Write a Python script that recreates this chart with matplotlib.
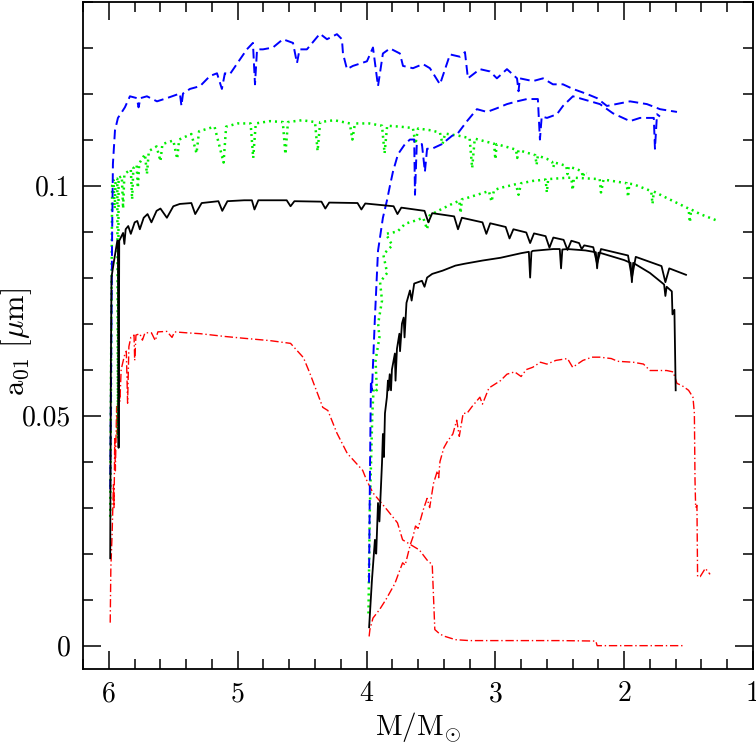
import matplotlib
matplotlib.use("Agg")
import matplotlib.pyplot as plt
from matplotlib.ticker import MultipleLocator

plt.rcParams['font.family'] = 'serif'
plt.rcParams['font.serif'] = ['cmr10', 'DejaVu Serif']
plt.rcParams['mathtext.fontset'] = 'cm'
plt.rcParams['axes.formatter.use_mathtext'] = True

# ---- data (mass M/Msun, a01 in micron) ----
# blue dashed
blue1_m = [5.99, 5.975, 5.969, 5.953, 5.930, 5.899, 5.876, 5.837, 5.783, 5.77, 5.755, 5.705, 5.627, 5.55,
           5.449, 5.437, 5.425, 5.371, 5.293, 5.216, 5.161, 5.123, 5.10, 5.061, 4.983, 4.929, 4.882, 4.866,
           4.85, 4.804, 4.727, 4.649, 4.571, 4.540, 4.52, 4.463, 4.362, 4.307, 4.230, 4.191, 4.183, 4.152,
           4.106, 3.997, 3.950, 3.911, 3.873, 3.818, 3.741, 3.717, 3.640, 3.562, 3.508, 3.430, 3.352, 3.275,
           3.236, 3.213, 3.120, 3.042, 2.988, 2.910, 2.832, 2.82, 2.81, 2.708, 2.630, 2.553, 2.475, 2.398,
           2.289, 2.211, 2.134, 1.955, 1.823, 1.722, 1.590]
blue1_a = [0.034, 0.090, 0.1047, 0.112, 0.1147, 0.116, 0.117, 0.1194, 0.119, 0.117, 0.119, 0.1194, 0.1183,
           0.119, 0.120, 0.1173, 0.120, 0.121, 0.1216, 0.1238, 0.1244, 0.121, 0.1244, 0.1242, 0.1274, 0.1296,
           0.131, 0.122, 0.1296, 0.1296, 0.130, 0.1318, 0.131, 0.1266, 0.1296, 0.1296, 0.133, 0.1318, 0.1329,
           0.1318, 0.1287, 0.1253, 0.126, 0.127, 0.130, 0.1216, 0.1287, 0.1298, 0.1287, 0.126, 0.1255,
           0.1264, 0.1255, 0.122, 0.1285, 0.128, 0.129, 0.1233, 0.1253, 0.1248, 0.1233, 0.1253, 0.1233,
           0.1205, 0.1233, 0.1227, 0.1233, 0.122, 0.122, 0.121, 0.1199, 0.119, 0.1173, 0.1183, 0.1177,
           0.1166, 0.116]
blue2_m = [3.981, 3.974, 3.966, 3.958, 3.935, 3.911, 3.873, 3.842, 3.818, 3.795, 3.756, 3.702, 3.663, 3.63,
           3.624, 3.61, 3.570, 3.547, 3.53, 3.492, 3.415, 3.337, 3.290, 3.22, 3.143, 3.065, 2.988, 2.910,
           2.832, 2.755, 2.67, 2.654, 2.64, 2.599, 2.522, 2.475, 2.398, 2.188, 2.087, 1.955, 1.877, 1.77,
           1.761, 1.745, 1.722]
blue2_a = [0.0137, 0.036, 0.0576, 0.0555, 0.0713, 0.0858, 0.093, 0.0967, 0.100, 0.103, 0.1068, 0.109,
           0.110, 0.110, 0.098, 0.109, 0.109, 0.103, 0.108, 0.108, 0.109, 0.1108, 0.1114, 0.114, 0.1166,
           0.116, 0.1168, 0.1177, 0.1183, 0.1188, 0.1188, 0.110, 0.115, 0.1147, 0.1155, 0.1173, 0.1194,
           0.1177, 0.1157, 0.114, 0.1147, 0.1147, 0.108, 0.1155, 0.115]

# green dotted
green1_m = [5.99, 5.975, 5.965, 5.955, 5.948, 5.935, 5.93, 5.925, 5.90, 5.89, 5.88, 5.83, 5.82, 5.81, 5.785,
            5.775, 5.765, 5.72, 5.705, 5.69, 5.63, 5.60, 5.585, 5.50, 5.47, 5.455, 5.36, 5.32, 5.30, 5.18,
            5.11, 5.09, 5.00, 4.90, 4.88, 4.86, 4.75, 4.65, 4.63, 4.61, 4.50, 4.40, 4.38, 4.36, 4.25, 4.13,
            4.11, 4.09, 3.98, 3.88, 3.86, 3.84, 3.74, 3.64, 3.62, 3.60, 3.50, 3.43, 3.41, 3.39, 3.28, 3.20,
            3.18, 3.16, 3.08, 3.01, 3.00, 2.99, 2.90, 2.84, 2.83, 2.82, 2.75, 2.69, 2.68, 2.67, 2.60, 2.56,
            2.55, 2.54, 2.49, 2.45, 2.44, 2.43, 2.37, 2.33, 2.32, 2.31, 2.29]
green1_a = [0.028, 0.100, 0.1012, 0.095, 0.1013, 0.1015, 0.045, 0.1017, 0.1020, 0.095, 0.1025, 0.1035,
            0.097, 0.1038, 0.1045, 0.0995, 0.1048, 0.1068, 0.1025, 0.1075, 0.1085, 0.1053, 0.109, 0.1098,
            0.1058, 0.110, 0.1112, 0.107, 0.1118, 0.1128, 0.105, 0.1128, 0.1135, 0.1135, 0.106, 0.1135,
            0.114, 0.1138, 0.1068, 0.1138, 0.1142, 0.1138, 0.1075, 0.1138, 0.1142, 0.1135, 0.110, 0.1135,
            0.1135, 0.113, 0.107, 0.113, 0.1128, 0.1125, 0.109, 0.1124, 0.112, 0.1115, 0.109, 0.1113,
            0.1108, 0.1103, 0.1038, 0.1102, 0.1096, 0.1091, 0.1057, 0.109, 0.1083, 0.1078, 0.1060, 0.1077,
            0.1071, 0.1066, 0.1045, 0.1065, 0.1058, 0.1052, 0.1040, 0.105, 0.1046, 0.1043, 0.1025, 0.1041,
            0.1036, 0.1031, 0.1018, 0.1029, 0.1027]
green2_m = [3.985, 3.975, 3.965, 3.955, 3.945, 3.92, 3.93, 3.90, 3.91, 3.88, 3.895, 3.84, 3.87, 3.80, 3.85,
            3.76, 3.70, 3.63, 3.56, 3.53, 3.51, 3.445, 3.337, 3.28, 3.27, 3.26, 3.22, 3.05, 3.03, 3.01, 2.96,
            2.84, 2.82, 2.80, 2.71, 2.61, 2.60, 2.59, 2.44, 2.41, 2.40, 2.39, 2.19, 2.18, 2.16, 1.98, 1.97,
            1.96, 1.93, 1.79, 1.78, 1.77, 1.67, 1.50, 1.49, 1.48, 1.41, 1.29]
green2_a = [0.007, 0.029, 0.040, 0.0505, 0.056, 0.0555, 0.062, 0.067, 0.070, 0.075, 0.079, 0.081, 0.085,
            0.087, 0.0895, 0.090, 0.0917, 0.0923, 0.093, 0.0905, 0.0935, 0.0945, 0.096, 0.0967, 0.094,
            0.097, 0.0973, 0.0988, 0.0965, 0.099, 0.0995, 0.1003, 0.098, 0.1005, 0.101, 0.1013, 0.0985,
            0.1014, 0.1017, 0.1017, 0.099, 0.1017, 0.1014, 0.0985, 0.1013, 0.1005, 0.0975, 0.1004, 0.1003,
            0.0988, 0.096, 0.0987, 0.0973, 0.095, 0.092, 0.0948, 0.0938, 0.0925]

# black solid
black1_m = [5.99, 5.985, 5.98, 5.975, 5.96, 5.935, 5.93, 5.925, 5.92, 5.89, 5.88, 5.87, 5.85, 5.83, 5.80,
            5.78, 5.76, 5.73, 5.70, 5.67, 5.63, 5.60, 5.55, 5.50, 5.45, 5.36, 5.33, 5.28, 5.15, 5.12, 5.08,
            4.95, 4.89, 4.87, 4.84, 4.62, 4.59, 4.56, 4.35, 4.32, 4.29, 4.07, 4.04, 4.01, 3.79, 3.76, 3.73,
            3.55, 3.52, 3.49, 3.32, 3.29, 3.26, 3.10, 3.07, 3.04, 2.92, 2.89, 2.86, 2.76, 2.73, 2.70, 2.61,
            2.58, 2.55, 2.47, 2.44, 2.41, 2.35, 2.33, 2.31, 2.24, 2.21, 2.18, 1.97, 1.94, 1.91, 1.71, 1.68,
            1.65, 1.52]
black1_a = [0.019, 0.060, 0.080, 0.081, 0.0837, 0.088, 0.088, 0.043, 0.088, 0.0897, 0.0873, 0.0905, 0.0912,
            0.0895, 0.092, 0.0923, 0.0905, 0.093, 0.0938, 0.092, 0.0945, 0.095, 0.093, 0.0955, 0.096,
            0.0962, 0.0938, 0.0962, 0.0966, 0.0945, 0.0966, 0.0968, 0.0968, 0.0948, 0.0968, 0.0968, 0.0955,
            0.0966, 0.0965, 0.095, 0.0963, 0.0962, 0.0948, 0.0961, 0.0955, 0.0938, 0.0952, 0.0945, 0.092,
            0.094, 0.0933, 0.0905, 0.093, 0.092, 0.0895, 0.0918, 0.091, 0.0885, 0.0905, 0.0898, 0.0875,
            0.0896, 0.089, 0.0865, 0.0887, 0.0882, 0.086, 0.088, 0.0875, 0.0862, 0.087, 0.0866, 0.083,
            0.0862, 0.0848, 0.080, 0.0845, 0.0825, 0.079, 0.082, 0.0806]
black2_m = [3.98, 3.958, 3.935, 3.925, 3.911, 3.90, 3.88, 3.873, 3.865, 3.857, 3.842, 3.834, 3.83, 3.82,
            3.81, 3.803, 3.78, 3.775, 3.764, 3.745, 3.74, 3.725, 3.712, 3.705, 3.69, 3.663, 3.65, 3.63, 3.57,
            3.55, 3.53, 3.49, 3.41, 3.31, 3.24, 3.10, 2.96, 2.80, 2.74, 2.73, 2.72, 2.71, 2.55, 2.50, 2.49,
            2.48, 2.44, 2.30, 2.22, 2.21, 2.20, 2.19, 2.00, 1.95, 1.94, 1.93, 1.80, 1.69, 1.68, 1.67, 1.63,
            1.625, 1.61, 1.60]
black2_a = [0.004, 0.0143, 0.023, 0.020, 0.031, 0.027, 0.0397, 0.046, 0.041, 0.0505, 0.054, 0.0576, 0.0555,
            0.059, 0.0555, 0.060, 0.0635, 0.0576, 0.0645, 0.0678, 0.064, 0.070, 0.0713, 0.067, 0.0745,
            0.0772, 0.075, 0.0787, 0.0793, 0.078, 0.080, 0.0808, 0.0815, 0.0826, 0.083, 0.0837, 0.0843,
            0.0853, 0.0856, 0.080, 0.0856, 0.0858, 0.0862, 0.0862, 0.082, 0.0861, 0.0862, 0.0859, 0.0855,
            0.082, 0.0854, 0.0854, 0.0838, 0.0832, 0.079, 0.0832, 0.081, 0.0785, 0.076, 0.078, 0.077,
            0.072, 0.073, 0.0555]

# red dash-dot
red1_m = [5.99, 5.985, 5.975, 5.965, 5.96, 5.955, 5.95, 5.94, 5.935, 5.925, 5.915, 5.905, 5.88, 5.865, 5.855,
          5.845, 5.83, 5.805, 5.80, 5.79, 5.76, 5.74, 5.72, 5.67, 5.64, 5.62, 5.55, 5.51, 5.49, 5.40, 5.29,
          5.10, 4.95, 4.75, 4.59, 4.49, 4.44, 4.34, 4.30, 4.23, 4.15, 4.03, 4.0, 3.95, 3.84, 3.76, 3.72,
          3.59, 3.53, 3.49, 3.47, 3.43, 3.39, 3.31, 3.20, 2.50, 2.22, 2.21, 1.54]
red1_a = [0.005, 0.017, 0.0245, 0.035, 0.030, 0.045, 0.038, 0.052, 0.046, 0.057, 0.053, 0.060, 0.063,
          0.064, 0.0527, 0.065, 0.067, 0.0675, 0.062, 0.0675, 0.0678, 0.0664, 0.068, 0.068, 0.0663, 0.0682,
          0.0683, 0.067, 0.0682, 0.068, 0.0678, 0.0672, 0.0668, 0.0663, 0.0657, 0.0626, 0.0592, 0.0518,
          0.0511, 0.0462, 0.0418, 0.0381, 0.036, 0.0332, 0.0295, 0.0267, 0.023, 0.0208, 0.0186, 0.0176,
          0.0035, 0.0025, 0.002, 0.0013, 0.0011, 0.0011, 0.001, 0.0, 0.0]
red2_m = [3.98, 3.974, 3.95, 3.90, 3.85, 3.80, 3.78, 3.75, 3.72, 3.70, 3.66, 3.64, 3.62, 3.60, 3.56, 3.53,
          3.51, 3.48, 3.45, 3.44, 3.43, 3.40, 3.37, 3.33, 3.30, 3.28, 3.25, 3.22, 3.18, 3.12, 3.10, 3.05,
          2.96, 2.91, 2.85, 2.80, 2.76, 2.71, 2.65, 2.60, 2.53, 2.44, 2.40, 2.32, 2.25, 2.19, 2.10, 2.05,
          1.93, 1.85, 1.80, 1.72, 1.67, 1.62, 1.59, 1.55, 1.50, 1.466, 1.455, 1.45, 1.445, 1.435, 1.43,
          1.41, 1.37, 1.333]
red2_a = [0.002, 0.0035, 0.006, 0.0078, 0.010, 0.0125, 0.0135, 0.0158, 0.018, 0.0175, 0.022, 0.0236,
          0.026, 0.0255, 0.0295, 0.032, 0.030, 0.0353, 0.038, 0.0365, 0.040, 0.043, 0.0445, 0.046, 0.049,
          0.0455, 0.0505, 0.0505, 0.052, 0.054, 0.0525, 0.056, 0.0576, 0.059, 0.0595, 0.0585, 0.060,
          0.0605, 0.0616, 0.0612, 0.062, 0.0624, 0.0605, 0.062, 0.0627, 0.0627, 0.0624, 0.0618, 0.0616,
          0.0612, 0.0598, 0.0598, 0.0598, 0.0595, 0.057, 0.0565, 0.0555, 0.054, 0.0505, 0.036, 0.030,
          0.0305, 0.015, 0.015, 0.0168, 0.0155]

x_ticks = [6, 5, 4, 3, 2, 1]
y_ticks = [0, 0.05, 0.1]
y_ticklabels = ['0', '0.05', '0.1']

fig = plt.figure(figsize=(7.56, 7.53), dpi=100)
ax = fig.add_axes([0.110, 0.112, 0.886, 0.886])

ax.plot(red1_m, red1_a, color='red', lw=1.0, dashes=(6, 2, 1, 2))
ax.plot(red2_m, red2_a, color='red', lw=1.0, dashes=(6, 2, 1, 2))
ax.plot(green1_m, green1_a, color='#00ee00', lw=1.8, dashes=(0.8, 1.6))
ax.plot(green2_m, green2_a, color='#00ee00', lw=1.8, dashes=(0.8, 1.6))
ax.plot(blue1_m, blue1_a, color='blue', lw=1.4, dashes=(5, 2.5))
ax.plot(blue2_m, blue2_a, color='blue', lw=1.4, dashes=(5, 2.5))
ax.plot(black1_m, black1_a, color='black', lw=1.3)
ax.plot(black2_m, black2_a, color='black', lw=1.3)

ax.set_xlim(6.2, 1.0)
ax.set_ylim(-0.005, 0.14)
ax.set_xticks(x_ticks)
ax.set_xticklabels([str(t) for t in x_ticks])
ax.set_yticks(y_ticks)
ax.set_yticklabels(y_ticklabels)
ax.xaxis.set_minor_locator(MultipleLocator(0.2))
ax.yaxis.set_minor_locator(MultipleLocator(0.01))

ax.tick_params(which='both', direction='in', top=True, right=True, width=1.1)
ax.tick_params(which='major', length=13, labelsize=20, pad=9)
ax.tick_params(which='minor', length=7)
for s in ax.spines.values():
    s.set_linewidth(1.3)

ax.set_xlabel(r'$\mathrm{M/M_{\odot}}$', fontsize=21)
ax.xaxis.set_label_coords(0.5, -0.062)
ax.set_ylabel(r'$\mathrm{a_{01}}\ [\mu\mathrm{m}]$', fontsize=22)
ax.yaxis.set_label_coords(-0.074, 0.49)

fig.savefig('out.png', dpi=100)
